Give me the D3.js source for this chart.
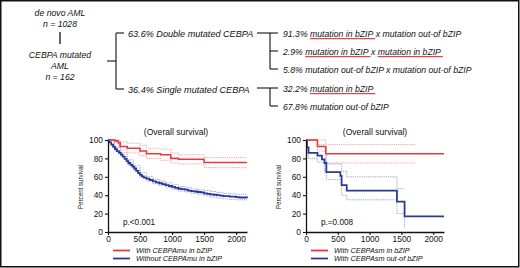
<!DOCTYPE html>
<html><head><meta charset="utf-8">
<script src="https://cdn.jsdelivr.net/npm/d3@7/dist/d3.min.js"></script>
<style>
html,body{margin:0;padding:0;background:#fff;}
svg{display:block;font-family:"Liberation Sans",Arial,sans-serif;}
</style></head>
<body><svg id="c" width="520" height="268"></svg>
<script>
// ---------- data ----------
const xTicks = [0, 500, 1000, 1500, 2000];
const yTicks = [0, 20, 40, 60, 80, 100];
const tMax = 2170;

// Left panel: with / without CEBPAmu in bZIP
const leftRedMain  = [[0,100],[110,99],[160,97],[190,93],[300,91],[500,88],[600,85],[820,84],[980,80],[1100,79],[1500,75.5],[2170,75.5]];
const leftRedUpper = [[0,100],[190,98],[300,96.5],[500,94],[600,91],[820,90],[980,86],[1100,84],[1500,81],[2170,81]];
const leftRedLower = [[0,100],[110,97],[160,95],[190,89],[300,86],[500,83],[600,80],[820,78],[980,75],[1100,74],[1500,70],[2170,70]];

const leftBlueT = [0,20,50,80,110,140,170,200,230,260,290,320,350,380,410,440,470,500,530,560,600,650,700,750,800,850,900,950,1000,1050,1100,1150,1200,1250,1300,1350,1400,1450,1500,1550,1600,1650,1700,1750,1800,1850,1900,2000,2050,2100,2170];
const leftBlueS = [100,97.5,95,92.5,90,88,86,84,82,79.5,77,75,73,71,69,66.5,64,62,60.5,59,58,56.5,55,54,53,52,51,50,49,48,47,46.5,46,45,44.5,44,43.5,43,42,41.5,41,40.5,40,39.5,39,39,38.5,38,37.5,37.5,37];
const leftCiT     = [0,100,200,300,400,500,600,700,800,900,1000,1100,1200,1300,1400,1500,1600,1700,1800,1900,2000,2170];
const leftCiUpper = [100,92,86,78.5,72,64.5,60.5,57.5,55.5,53.5,51.5,49.5,48.5,47,46,45,44,43,42,41.5,41,40.5];
const leftCiLower = [100,88,82,73.5,67,59.5,55.5,52.5,50.5,48.5,46.5,44.5,43.5,42,41,39.5,38,37,36,35.5,35,34];

// Right panel: CEBPAsm in / out-of bZIP
const rightRedMain  = [[0,100],[180,93],[310,85],[2170,85]];
const rightRedUpper = [[0,100],[310,95],[1720,95]];
const rightRedLower = [[0,100],[180,88],[310,75],[1720,75]];
const rightBlueMain  = [[0,100],[15,92],[40,86],[180,83],[250,79],[290,75],[320,65],[540,61],[560,51],[640,45],[1430,33],[1550,17],[2170,17]];
const rightBlueUpper = [[0,100],[180,95],[290,92],[320,74],[560,66],[640,60],[1430,47],[1550,47]];
const rightBlueLower = [[0,100],[15,85],[40,80],[180,76],[290,66],[320,57],[560,40],[640,35],[1430,20],[1550,4]];

const leftLegend  = ["With CEBPAmu in bZIP", "Without CEBPAmu in bZIP"];
const rightLegend = ["With CEBPAsm in bZIP", "With CEBPAsm out-of bZIP"];
const leftP = "p.<0.001", rightP = "p.=0.008";

const treeLeft = ["de novo AML", "n = 1028"];
const treeMid  = ["CEBPA mutated", "AML", "n = 162"];
const branch1  = ["63.6% Double mutated CEBPA", "36.4% Single mutated CEBPA"];
const doubleLines = [
  [["91.3% ",0],["mutation in bZIP",1],[" x mutation out-of bZIP",0]],
  [["2.9% ",0],["mutation in bZIP",1],[" x ",0],["mutation in bZIP",1]],
  [["5.8% mutation out-of bZIP x mutation out-of bZIP",0]]
];
const singleLines = [
  [["32.2% ",0],["mutation in bZIP",1]],
  [["67.8% mutation out-of bZIP",0]]
];

// ---------- drawing ----------
const RED="#e8393c", BLUE="#2b3a98", RED_L="#f29a9a", BLUE_L="#8d98d2";
const svg = d3.select("#c");
svg.append("rect").attr("x",0.75).attr("y",0.75).attr("width",518).attr("height",266)
  .attr("fill","#fff").attr("stroke","#111").attr("stroke-width",1.5);

const FS = 8.7;
// tree left
const tl = svg.append("g").attr("font-style","italic").attr("font-size",FS).attr("fill","#111").attr("text-anchor","middle");
treeLeft.forEach((t,i)=>tl.append("text").attr("x",60).attr("y",15.5+i*11).text(t));
svg.append("line").attr("x1",60).attr("x2",60).attr("y1",32).attr("y2",44).attr("stroke","#111").attr("stroke-width",1.3);
treeMid.forEach((t,i)=>tl.append("text").attr("x",60).attr("y",57.5+i*11).text(t));

function bracket(x0, xv, x1, yMid, ys){
  const g = svg.append("g").attr("stroke","#111").attr("stroke-width",1.1).attr("fill","none");
  g.append("line").attr("x1",x0).attr("x2",xv).attr("y1",yMid).attr("y2",yMid);
  g.append("line").attr("x1",xv).attr("x2",xv).attr("y1",d3.min(ys)).attr("y2",d3.max(ys));
  ys.forEach(y=>g.append("line").attr("x1",xv).attr("x2",x1).attr("y1",y).attr("y2",y));
}
bracket(107,116,124,61,[33,89]);
branch1.forEach((t,i)=>tl.append("text").attr("text-anchor","start").attr("font-size",9.1).attr("x",128).attr("y",[36.5,92.5][i]).text(t));

bracket(257,270,278,33,[33,51,69]);
bracket(257,270,278,88,[88,106]);

function segLine(segs, x, y){
  let cx = x;
  segs.forEach(([t,u])=>{
    const te = svg.append("text").attr("x",cx).attr("y",y).attr("font-style","italic")
      .attr("font-size",FS).attr("fill","#111").attr("xml:space","preserve").style("white-space","pre").text(t);
    const w = te.node().getComputedTextLength();
    if(u){
      svg.append("line").attr("x1",cx).attr("x2",cx+w+2).attr("y1",y+2.2).attr("y2",y+2.2)
        .attr("stroke","#e0474c").attr("stroke-width",1.2);
    }
    cx += w;
  });
}
doubleLines.forEach((s,i)=>segLine(s,283,[36.5,54.5,72.5][i]));
singleLines.forEach((s,i)=>segLine(s,283,[91.5,109.5][i]));

// KM panels
function panel(x0, x1, redSets, blueSets, legend, ptext, titleX){
  const x = d3.scaleLinear().domain([0,tMax]).range([x0,x1]);
  const y = d3.scaleLinear().domain([0,100]).range([232,140]);
  const g = svg.append("g");
  const line = d3.line().x(d=>x(d[0])).y(d=>y(d[1])).curve(d3.curveStepAfter);
  // CI
  [[redSets[1],RED_L],[redSets[2],RED_L],[blueSets[1],BLUE_L],[blueSets[2],BLUE_L]].forEach(([d,c])=>{
    g.append("path").attr("d",line(d)).attr("fill","none").attr("stroke",c)
      .attr("stroke-width",0.9).attr("stroke-dasharray","1.2,1");
  });
  g.append("path").attr("d",line(blueSets[0])).attr("fill","none").attr("stroke",BLUE).attr("stroke-width",1.8);
  g.append("path").attr("d",line(redSets[0])).attr("fill","none").attr("stroke",RED).attr("stroke-width",1.6);
  // axes
  const xa = g.append("g").attr("transform","translate(0,232)")
    .call(d3.axisBottom(x).tickValues(xTicks).tickFormat(d3.format("d")).tickSize(3).tickPadding(1.5).tickSizeOuter(0));
  const ya = g.append("g").attr("transform",`translate(${x0},0)`)
    .call(d3.axisLeft(y).tickValues(yTicks).tickFormat(d3.format("d")).tickSize(3).tickPadding(2).tickSizeOuter(0));
  [xa,ya].forEach(a=>{
    a.select(".domain").attr("stroke","#111").attr("stroke-width",1.3);
    a.selectAll(".tick line").attr("stroke","#111").attr("stroke-width",1.1);
    a.selectAll(".tick text").attr("font-size",8.4).attr("fill","#111").attr("font-family","Liberation Sans, Arial, sans-serif");
  });
  // labels
  g.append("text").attr("x",titleX).attr("y",134.5).attr("text-anchor","middle").attr("font-size",8.6).attr("fill","#111").text("(Overall survival)");
  g.append("text").attr("transform",`translate(${x0-25},187) rotate(-90)`).attr("text-anchor","middle")
    .attr("font-size",7.6).attr("fill","#111").attr("textLength",44).attr("lengthAdjust","spacingAndGlyphs").text("Percent survival");
  g.append("text").attr("x",x0+15).attr("y",225).attr("font-size",8.2).attr("fill","#111").text(ptext);
  // legend
  [[RED,legend[0],250.5],[BLUE,legend[1],258.5]].forEach(([c,t,yy])=>{
    g.append("line").attr("x1",x0+5).attr("x2",x0+22).attr("y1",yy).attr("y2",yy).attr("stroke",c).attr("stroke-width",1.8);
    g.append("text").attr("x",x0+28).attr("y",yy+2.5).attr("font-size",7.3).attr("font-style","italic").attr("fill","#111").text(t);
  });
}
const zipPts = (T,S)=>T.map((t,i)=>[t,S[i]]);
panel(108,247,[leftRedMain,leftRedUpper,leftRedLower],
  [zipPts(leftBlueT,leftBlueS),zipPts(leftCiT,leftCiUpper),zipPts(leftCiT,leftCiLower)],
  leftLegend,leftP,176);
panel(306,444,[rightRedMain,rightRedUpper,rightRedLower],
  [rightBlueMain,rightBlueUpper,rightBlueLower],rightLegend,rightP,375);
</script></body></html>
